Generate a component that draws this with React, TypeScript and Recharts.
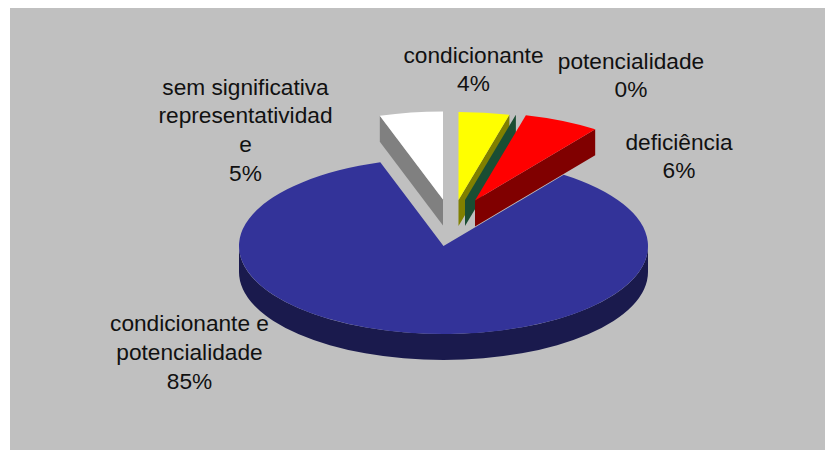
import { Pie, PieChart } from 'recharts';

// slices run clockwise, beginning with the large one so it paints underneath the pulled-out ones
const categories = [
  'condicionante e potencialidade',
  'sem significativa representatividade',
  'condicionante',
  'potencialidade',
  'deficiência',
];
const percents = [85, 5, 4, 0, 6];
const labelLines = [
  ['condicionante e', 'potencialidade'],
  ['sem significativa', 'representatividad', 'e'],
  ['condicionante'],
  ['potencialidade'],
  ['deficiência'],
];

const topColors = ['#333399', '#ffffff', '#ffff00', '#339966', '#ff0000'];
const sideColors = ['#1a1a4d', '#808080', '#808000', '#1a4d33', '#800000'];
const explodeX = [0, -0.5, 15, 21.5, 31.5];
const explodeY = [0, -46.5, -46, -46, -45.5];
const labelX = [179.5, 235.5, 463.5, 621, 669];
const labelY = [323, 86.5, 54.5, 60.5, 141.5];

const WIDTH = 815;
const HEIGHT = 442;
const RX = 204.5;
const RY = 88;
const DEPTH = 26;
const LINE_HEIGHT = 28.9;

const rows = categories.map((name, i) => ({ name, value: percents[i], slot: i }));

const rad = (deg: number) => (deg * Math.PI) / 180;

// top face, rim and cut faces of one slice, squashed to an ellipse
function Slice3D(props: any) {
  const { cx, cy, startAngle, endAngle } = props;
  const slot = props.slot ?? props.payload?.slot;
  const x0 = cx + explodeX[slot];
  const y0 = cy + explodeY[slot];
  const px = (a: number) => x0 + RX * Math.cos(rad(a));
  const py = (a: number) => y0 - RY * Math.sin(rad(a));
  const hi = Math.max(startAngle, endAngle);
  const lo = Math.min(startAngle, endAngle);
  const large = hi - lo > 180 ? 1 : 0;

  const top = `M${x0},${y0}L${px(hi)},${py(hi)}A${RX},${RY} 0 ${large} 1 ${px(lo)},${py(lo)}Z`;
  const cutFace = (a: number) =>
    `M${x0},${y0}L${px(a)},${py(a)}L${px(a)},${py(a) + DEPTH}L${x0},${y0 + DEPTH}Z`;

  const rimHi = Math.min(hi, 0);
  const rimLo = Math.max(lo, -180);
  const hasRim = rimHi > rimLo;
  const rim = `M${px(rimHi)},${py(rimHi)}A${RX},${RY} 0 0 1 ${px(rimLo)},${py(rimLo)}L${px(rimLo)},${py(rimLo) + DEPTH}A${RX},${RY} 0 0 0 ${px(rimHi)},${py(rimHi) + DEPTH}Z`;

  const side = sideColors[slot];
  return (
    <g>
      {Math.sin(rad(lo - 90)) < -1e-6 && <path d={cutFace(lo)} fill={side} />}
      {Math.sin(rad(hi + 90)) < -1e-6 && <path d={cutFace(hi)} fill={side} />}
      {hasRim && <path d={rim} fill={side} />}
      {hi - lo > 0.01 && <path d={top} fill={topColors[slot]} />}
    </g>
  );
}

function SliceLabel(props: any) {
  const slot = props.slot ?? props.payload?.slot;
  const lines = [...labelLines[slot], `${props.value}%`];
  return (
    <text
      textAnchor="middle"
      fontFamily="Liberation Sans"
      fontSize={22.7}
      fill="#111111"
    >
      {lines.map((line, i) => (
        <tspan key={i} x={labelX[slot]} y={labelY[slot] + i * LINE_HEIGHT}>
          {line}
        </tspan>
      ))}
    </text>
  );
}

export default function App() {
  return (
    <div style={{ position: 'fixed', left: 10, top: 8 }}>
      <PieChart
        width={WIDTH}
        height={HEIGHT}
        margin={{ top: 0, right: 0, bottom: 0, left: 0 }}
        style={{ backgroundColor: '#c0c0c0' }}
      >
        <Pie
          data={rows}
          dataKey="value"
          nameKey="name"
          cx={433.5}
          cy={238}
          innerRadius={0}
          outerRadius={RX}
          startAngle={54}
          endAngle={-306}
          paddingAngle={0}
          stroke="none"
          shape={Slice3D}
          label={SliceLabel}
          labelLine={false}
          isAnimationActive={false}
        />
      </PieChart>
    </div>
  );
}
